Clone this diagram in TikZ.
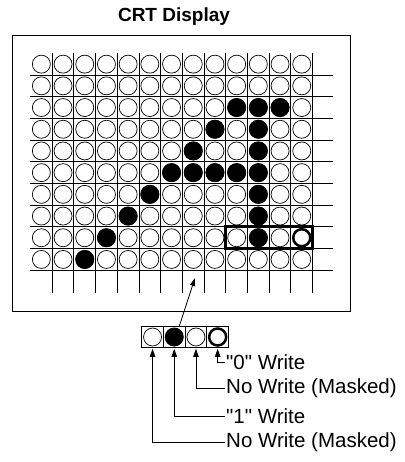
\documentclass[tikz,border=0pt]{standalone}
\usepackage{fontspec}
\setmainfont{Liberation Sans}
\newfontfamily\labfont{Liberation Sans}
\usetikzlibrary{arrows.meta}
\begin{document}
\begin{tikzpicture}[x=1pt,y=-1pt,
  gridline/.style={line width=0.9pt},
  dot/.style={line width=0.7pt},
  cellbox/.style={draw,line width=0.8pt,minimum size=21.7pt,inner sep=0pt,outer sep=0pt},
  lbl/.style={anchor=west,inner sep=0pt,font=\labfont\fontsize{20.5}{24}\selectfont},
  conn/.style={line width=0.8pt,{Triangle[length=8pt,width=5.5pt]}-,shorten <=1pt,shorten >=1.5pt},
  uparrow/.style={line width=0.8pt,-{Triangle[length=8pt,width=5pt]}}
]
\path[use as bounding box] (0,0) rectangle (404,462);
\def\xo{30.5}\def\yo{53.3}\def\w{21.7}
% frame
\draw[line width=1pt] (12.5,36) rectangle (350,311);
% title
\node[font=\bfseries\fontsize{19}{22}\selectfont,anchor=base,inner sep=0pt] (title) at (174,21.7) {CRT Display};
% grid lines
\foreach \r in {1,...,10} \draw[gridline] (30,{\yo+\r*\w}) -- (333,{\yo+\r*\w});
\foreach \k in {1,...,13} \draw[gridline] ({\xo+\k*\w},\yo) -- ({\xo+\k*\w},293);
% open pixels
\foreach \r in {1,...,10} \foreach \c in {1,...,13}
  \draw[dot] ({\xo+(\c-0.5)*\w},{\yo+(\r-0.5)*\w}) circle[radius=9pt];
% lit pixels
\foreach \r/\c in {3/10,3/11,3/12,4/9,4/11,5/8,5/11,6/7,6/8,6/9,6/10,6/11,7/6,7/11,8/5,8/11,9/4,9/11,10/3}
  \fill ({\xo+(\c-0.5)*\w},{\yo+(\r-0.5)*\w}) circle[radius=9.5pt];
% highlighted word
\draw[line width=3pt] ({\xo+9*\w},{\yo+8*\w}) rectangle ({\xo+13*\w},{\yo+9*\w});
\draw[line width=2.5pt] ({\xo+12.5*\w},{\yo+8.5*\w}) circle[radius=8.5pt];
% mask register
\foreach \i in {1,...,4} \node[cellbox] (s\i) at ({141.7+(\i-0.5)*21.7},337) {};
\draw[dot] (s1) circle[radius=9pt];
\fill (s2) circle[radius=9.5pt];
\draw[dot] (s3) circle[radius=9pt];
\draw[line width=2.5pt] (s4) circle[radius=8.5pt];
% pointer into the screen
\coordinate (tip) at (195,278);
\draw[uparrow] ([xshift=5pt]s2.north) -- (tip);
% labels
\node[lbl] (l4) at (226,362) {"0" Write};
\node[lbl] (l3) at (226,388) {No Write (Masked)};
\node[lbl] (l2) at (226,416) {"1" Write};
\node[lbl] (l1) at (226,442) {No Write (Masked)};
\foreach \i in {1,...,4} \draw[conn] (s\i.south) |- (l\i.west);
\end{tikzpicture}
\end{document}
